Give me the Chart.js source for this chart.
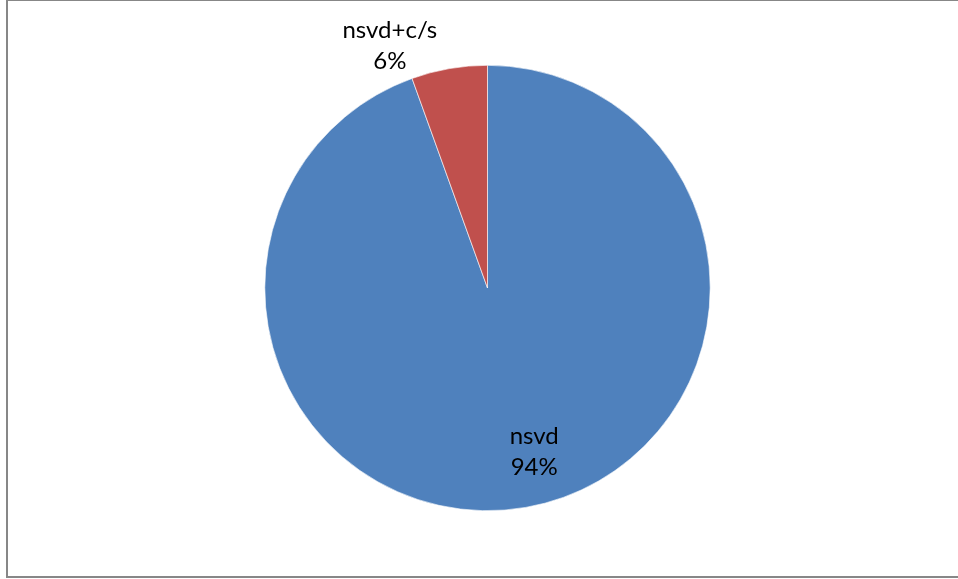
<!DOCTYPE html>
<html>
<head>
<meta charset="utf-8">
<script src="https://cdn.jsdelivr.net/npm/chart.js@4/dist/chart.umd.min.js"></script>
<style>
  html, body { margin: 0; padding: 0; background: #fff; overflow: hidden; }
  #wrap { position: relative; width: 958px; height: 579px; }
  #frame {
    position: absolute; left: 6px; top: 0; width: 960px; height: 575px;
    border-left: 2px solid #878787; border-bottom: 2px solid #878787; border-top: 1px solid #878787;
    box-sizing: content-box;
  }
  canvas { position: absolute; left: 0; top: 0; }
</style>
</head>
<body>
<div id="wrap">
  <div id="frame"></div>
  <canvas id="piechart" width="958" height="579"></canvas>
</div>
<script>
var categories = ['nsvd', 'nsvd+c/s'];
var values = [94.5, 5.5];
var percentLabels = ['94%', '6%'];
var colors = ['#4F81BD', '#C0504D'];

// draws "category / percent" labels, inside big slices, outside small ones
var sliceLabels = {
    id: 'sliceLabels',
    afterDatasetsDraw: function(chart) {
        var ctx = chart.ctx;
        var arcs = chart.getDatasetMeta(0).data;
        var total = values.reduce(function(a, b){ return a + b; }, 0);
        ctx.save();
        ctx.font = '24px Lato, "Liberation Sans", sans-serif';
        ctx.fillStyle = '#000';
        ctx.textAlign = 'center';
        ctx.textBaseline = 'middle';
        for (var i = 0; i < arcs.length; i++) {
            var a = arcs[i];
            var mid = (a.startAngle + a.endAngle) / 2;
            var r, ang;
            if (values[i] / total > 0.1) {
                r = a.outerRadius * 0.765;
                ang = mid - 0.105;
            } else {
                r = a.outerRadius * 1.174;
                ang = mid - 0.21;
            }
            var x = a.x + Math.cos(ang) * r;
            var y = a.y + Math.sin(ang) * r;
            ctx.fillText(categories[i], x, y - 15.5);
            ctx.fillText(percentLabels[i], x, y + 15.5);
        }
        ctx.restore();
    }
};

var canvas = document.getElementById('piechart');
var pieChart = new Chart(canvas, {
    type: 'pie',
    data: {
        labels: categories,
        datasets: [{
            data: values,
            backgroundColor: colors,
            borderColor: '#ffffff',
            borderWidth: 0.6
        }]
    },
    options: {
        responsive: false,
        animation: false,
        layout: { padding: { left: 17, right: 0, top: 65, bottom: 68 } },
        plugins: {
            legend: { display: false },
            tooltip: { enabled: false }
        }
    },
    plugins: [sliceLabels]
});
</script>
</body>
</html>
